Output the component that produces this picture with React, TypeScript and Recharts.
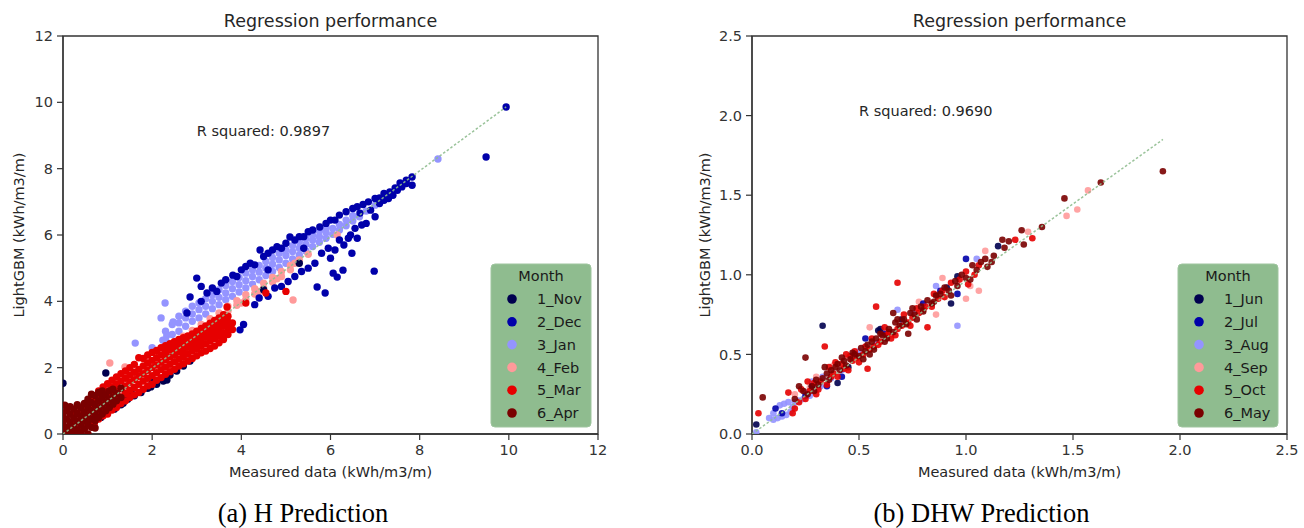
import React from 'react';
import { ScatterChart, Scatter, XAxis, YAxis, ReferenceArea, ReferenceDot } from 'recharts';

type Pt = [number, number];

// ---------- shared ----------
const monthColors = ['#00004f', '#0000aa', '#9494ff', '#ff9a9a', '#e60000', '#7a0000'];
const chartTitle = 'Regression performance';
const xLabel = 'Measured data (kWh/m3/m)';
const yLabel = 'LightGBM (kWh/m3/m)';
const legendTitle = 'Month';

// ---------- (a) H prediction ----------
const hMonths = ['1_Nov', '2_Dec', '3_Jan', '4_Feb', '5_Mar', '6_Apr'];
const hTicks = [0, 2, 4, 6, 8, 10, 12];
const hCaption = '(a) H Prediction';
const hR2 = 'R squared: 0.9897';
const hR2Pos: Pt = [3, 9];
const hFit: Pt[] = [[0, 0], [9.94, 9.86]];

const hNov: Pt[] = [
  [0.0, 1.53], [0.96, 1.84], [0.85, 0.5], [1.0, 0.65], [1.15, 0.75], [1.3, 0.88], [1.35, 0.93], [1.45, 1.05],
  [1.6, 1.15], [1.75, 1.25], [1.9, 1.38], [1.97, 1.42], [2.1, 1.5], [2.25, 1.6], [2.33, 1.63], [2.4, 1.78],
  [2.55, 1.9], [0.3, 0.1], [0.55, 0.3], [4.5, 4.35], [5.3, 5.15], [3.3, 3.0], [0.7, 0.4], [1.2, 0.9],
  [1.55, 1.2], [2.0, 1.55], [2.7, 2.05], [2.85, 2.2],
];
const hDec: Pt[] = [
  [2.78, 3.65], [2.85, 4.13], [3.0, 4.7], [3.1, 4.0], [3.1, 4.45], [3.23, 4.25], [3.35, 4.4], [3.45, 4.3],
  [3.55, 4.55], [3.65, 4.65], [3.81, 4.79], [3.9, 4.75], [4.0, 4.95], [4.1, 5.05], [4.2, 5.15], [4.3, 5.1],
  [4.42, 5.55], [4.5, 5.35], [4.6, 5.45], [4.7, 5.55], [4.8, 5.65], [4.9, 5.6], [5.0, 5.75], [5.09, 5.94],
  [5.2, 5.85], [5.3, 5.95], [5.4, 5.95], [5.5, 6.1], [5.6, 6.15], [5.76, 6.24], [5.9, 6.35], [6.0, 6.45],
  [6.1, 6.45], [6.2, 6.6], [6.35, 6.7], [6.5, 6.8], [6.6, 6.85], [6.73, 6.92], [6.85, 7.0], [7.0, 7.1],
  [7.1, 7.12], [7.2, 7.25], [7.33, 7.3], [7.45, 7.42], [7.56, 7.57], [7.7, 7.65], [7.83, 7.75], [6.66, 6.66],
  [6.9, 6.75], [7.1, 6.95], [7.2, 7.05], [7.3, 7.1], [7.5, 7.35], [7.6, 7.45], [7.7, 7.55], [7.83, 7.5],
  [7.4, 7.2], [3.97, 3.14], [4.05, 3.3], [4.3, 3.9], [4.4, 4.1], [4.6, 4.15], [4.75, 4.4], [4.9, 4.45],
  [5.05, 4.6], [5.2, 4.75], [5.35, 4.9], [5.5, 5.0], [5.65, 5.15], [5.7, 4.43], [5.88, 4.25], [6.06, 4.85],
  [6.15, 4.73], [6.28, 4.94], [6.48, 5.45], [6.6, 5.9], [6.98, 4.91], [6.0, 5.3], [5.8, 5.45], [6.3, 5.7],
  [6.45, 6.0], [6.8, 6.35], [7.0, 6.55], [6.2, 5.85], [6.55, 6.2], [5.95, 5.6], [6.1, 5.55], [6.4, 5.9],
  [6.7, 6.3], [4.6, 4.95], [5.4, 5.6], [9.94, 9.86], [9.49, 8.35],
];
const hJan: Pt[] = [
  [2.3, 2.85], [2.3, 3.1], [2.45, 3.0], [2.45, 3.3], [2.6, 3.1], [2.6, 3.35], [2.6, 3.55], [2.75, 3.25],
  [2.75, 3.5], [2.75, 3.7], [2.9, 3.4], [2.9, 3.62], [2.9, 3.85], [3.05, 3.5], [3.05, 3.75], [3.05, 3.95],
  [3.2, 3.62], [3.2, 3.85], [3.2, 4.08], [3.35, 3.78], [3.35, 4.0], [3.35, 4.2], [3.5, 3.9], [3.5, 4.12],
  [3.5, 4.35], [3.65, 4.05], [3.65, 4.25], [3.65, 4.48], [3.8, 4.15], [3.8, 4.38], [3.8, 4.6], [3.95, 4.28],
  [3.95, 4.5], [3.95, 4.72], [4.1, 4.4], [4.1, 4.62], [4.1, 4.85], [4.25, 4.52], [4.25, 4.75], [4.25, 4.95],
  [4.4, 4.65], [4.4, 4.88], [4.4, 5.08], [4.55, 4.78], [4.55, 5.0], [4.55, 5.2], [4.7, 4.9], [4.7, 5.12],
  [4.7, 5.32], [4.85, 5.02], [4.85, 5.25], [4.85, 5.45], [5.0, 5.15], [5.0, 5.38], [5.0, 5.55], [5.15, 5.28],
  [5.15, 5.5], [5.15, 5.68], [5.3, 5.4], [5.3, 5.6], [5.3, 5.8], [5.45, 5.52], [5.45, 5.72], [5.45, 5.9],
  [5.6, 5.65], [5.6, 5.85], [5.6, 6.0], [5.75, 5.78], [5.75, 5.95], [5.75, 6.12], [5.9, 5.9], [5.9, 6.08],
  [5.9, 6.22], [6.05, 6.02], [6.05, 6.2], [6.2, 6.15], [6.2, 6.32], [6.35, 6.28], [6.35, 6.45], [6.5, 6.42],
  [6.5, 6.58], [6.65, 6.55], [6.8, 6.72], [7.0, 6.9], [2.29, 3.95], [2.2, 3.5], [2.47, 3.38], [2.24, 2.83],
  [1.62, 2.74], [2.33, 2.98], [8.41, 8.29], [2.0, 2.6],
];
const hFeb: Pt[] = [
  [0.5, 0.75], [0.8, 1.15], [1.05, 2.14], [1.39, 2.02], [1.9, 2.25], [2.1, 2.45], [2.3, 2.62], [2.3, 2.5],
  [2.5, 2.78], [2.5, 2.65], [2.7, 2.95], [2.7, 2.82], [2.9, 3.12], [2.9, 2.98], [3.1, 3.3], [3.1, 3.15],
  [3.3, 3.48], [3.3, 3.32], [3.5, 3.65], [3.5, 3.5], [3.7, 3.85], [3.7, 3.7], [3.9, 4.02], [3.9, 3.88],
  [4.1, 4.2], [4.1, 4.05], [4.3, 4.38], [4.3, 4.22], [4.5, 4.55], [4.5, 4.4], [4.7, 4.72], [4.7, 4.58],
  [4.9, 4.9], [4.9, 4.75], [5.1, 5.08], [5.1, 4.95], [5.3, 5.25], [5.5, 5.42], [5.16, 4.04], [6.15, 6.0],
  [4.0, 3.95], [4.4, 4.3], [4.8, 4.68], [5.2, 5.15],
];
const hMar: Pt[] = [
  [0.3, 0.12], [0.3, 0.38], [0.3, 0.62], [0.4, 0.25], [0.4, 0.55], [0.4, 0.78], [0.5, 0.2], [0.5, 0.42],
  [0.5, 0.68], [0.5, 0.9], [0.6, 0.35], [0.6, 0.58], [0.6, 0.82], [0.6, 1.02], [0.7, 0.3], [0.7, 0.52],
  [0.7, 0.75], [0.7, 0.98], [0.7, 1.15], [0.8, 0.45], [0.8, 0.66], [0.8, 0.9], [0.8, 1.12], [0.8, 1.3],
  [0.9, 0.55], [0.9, 0.78], [0.9, 1.0], [0.9, 1.22], [0.9, 1.42], [1.0, 0.6], [1.0, 0.85], [1.0, 1.08],
  [1.0, 1.3], [1.0, 1.52], [1.1, 0.72], [1.1, 0.95], [1.1, 1.18], [1.1, 1.4], [1.1, 1.62], [1.2, 0.8],
  [1.2, 1.05], [1.2, 1.28], [1.2, 1.5], [1.2, 1.72], [1.3, 0.92], [1.3, 1.12], [1.3, 1.36], [1.3, 1.6],
  [1.3, 1.82], [1.4, 1.0], [1.4, 1.22], [1.4, 1.45], [1.4, 1.68], [1.4, 1.9], [1.5, 1.1], [1.5, 1.32],
  [1.5, 1.56], [1.5, 1.78], [1.5, 2.0], [1.6, 1.18], [1.6, 1.4], [1.6, 1.64], [1.6, 1.86], [1.6, 2.1],
  [1.7, 1.25], [1.7, 1.5], [1.7, 1.74], [1.7, 1.95], [1.7, 2.3], [1.8, 1.35], [1.8, 1.6], [1.8, 1.82],
  [1.8, 2.05], [1.8, 2.28], [1.9, 1.45], [1.9, 1.68], [1.9, 1.92], [1.9, 2.14], [1.9, 2.38], [2.0, 1.5],
  [2.0, 1.76], [2.0, 2.0], [2.0, 2.22], [2.0, 2.46], [2.1, 1.62], [2.1, 1.85], [2.1, 2.08], [2.1, 2.3],
  [2.1, 2.52], [2.2, 1.7], [2.2, 1.94], [2.2, 2.16], [2.2, 2.38], [2.2, 2.6], [2.3, 1.8], [2.3, 2.02],
  [2.3, 2.25], [2.3, 2.46], [2.3, 2.66], [2.4, 1.88], [2.4, 2.1], [2.4, 2.32], [2.4, 2.54], [2.4, 2.72],
  [2.5, 1.95], [2.5, 2.18], [2.5, 2.4], [2.5, 2.6], [2.5, 2.78], [2.6, 2.05], [2.6, 2.26], [2.6, 2.48],
  [2.6, 2.68], [2.6, 2.85], [2.7, 2.12], [2.7, 2.34], [2.7, 2.55], [2.7, 2.74], [2.7, 2.9], [2.8, 2.2],
  [2.8, 2.42], [2.8, 2.62], [2.8, 2.8], [2.8, 2.96], [2.9, 2.28], [2.9, 2.5], [2.9, 2.7], [2.9, 2.88],
  [2.9, 3.02], [3.0, 2.36], [3.0, 2.58], [3.0, 2.78], [3.0, 2.95], [3.0, 3.1], [3.1, 2.45], [3.1, 2.65],
  [3.1, 2.85], [3.1, 3.02], [3.1, 3.18], [3.2, 2.5], [3.2, 2.72], [3.2, 2.92], [3.2, 3.1], [3.2, 3.26],
  [3.3, 2.58], [3.3, 2.8], [3.3, 3.0], [3.3, 3.18], [3.3, 3.34], [3.4, 2.65], [3.4, 2.88], [3.4, 3.08],
  [3.4, 3.26], [3.4, 3.42], [3.5, 2.75], [3.5, 2.95], [3.5, 3.15], [3.5, 3.32], [3.5, 3.5], [3.6, 2.85],
  [3.6, 3.05], [3.6, 3.25], [3.6, 3.42], [3.6, 3.6], [3.7, 3.0], [3.7, 3.2], [3.7, 3.38], [3.7, 3.55],
  [3.8, 3.15], [3.8, 3.35], [3.68, 3.83], [4.1, 3.95], [4.55, 4.25], [5.0, 4.3],
];
const hApr: Pt[] = [
  [0.0, 0.05], [0.0, 0.3], [0.0, 0.55], [0.04, 0.87], [0.08, 0.0], [0.08, 0.2], [0.08, 0.45], [0.08, 0.7],
  [0.16, 0.1], [0.16, 0.35], [0.16, 0.6], [0.16, 0.82], [0.24, 0.0], [0.24, 0.22], [0.24, 0.48], [0.24, 0.75],
  [0.32, 0.12], [0.32, 0.38], [0.32, 0.62], [0.32, 0.88], [0.4, 0.05], [0.4, 0.28], [0.4, 0.52], [0.4, 0.78],
  [0.48, 0.15], [0.48, 0.4], [0.48, 0.65], [0.48, 0.92], [0.56, 0.0], [0.56, 0.3], [0.56, 0.55], [0.56, 0.8],
  [0.56, 1.05], [0.64, 0.2], [0.64, 0.45], [0.64, 0.7], [0.64, 0.95], [0.64, 1.2], [0.72, 0.18], [0.72, 0.4],
  [0.72, 0.62], [0.72, 0.88], [0.72, 1.15], [0.8, 0.5], [0.8, 0.75], [0.8, 1.0], [0.8, 1.25], [0.88, 0.6],
  [0.88, 0.85], [0.88, 1.1], [0.88, 1.3], [0.96, 0.7], [0.96, 0.95], [0.96, 1.18], [1.04, 0.8], [1.04, 1.05],
  [1.04, 1.3], [1.12, 0.9], [1.12, 1.12], [1.12, 1.35], [1.2, 1.0], [1.2, 1.22], [1.3, 1.1], [1.3, 1.38],
];
const hSeries: Pt[][] = [hNov, hDec, hJan, hFeb, hMar, hApr];
const hDrawOrder = [2, 3, 1, 0, 4, 5];

// ---------- (b) DHW prediction ----------
const dhwMonths = ['1_Jun', '2_Jul', '3_Aug', '4_Sep', '5_Oct', '6_May'];
const dhwTicks = [0, 0.5, 1.0, 1.5, 2.0, 2.5];
const dhwCaption = '(b) DHW Prediction';
const dhwR2 = 'R squared: 0.9690';
const dhwR2Pos: Pt = [0.5, 2.0];
const dhwFit: Pt[] = [[0, 0], [1.92, 1.85]];

const dJun: Pt[] = [
  [0.02, 0.06], [0.33, 0.68], [0.4, 0.32], [0.59, 0.65], [0.6, 0.66], [0.93, 0.82], [0.96, 0.99], [0.91, 0.92],
  [1.15, 1.18], [0.45, 0.42], [0.7, 0.72], [0.28, 0.3],
];
const dJul: Pt[] = [
  [0.11, 0.16], [0.14, 0.13], [0.53, 0.6], [1.0, 1.1], [0.96, 0.88], [0.35, 0.3], [0.42, 0.36], [0.62, 0.63],
  [0.8, 0.82], [0.88, 0.9], [0.25, 0.24],
];
const dAug: Pt[] = [
  [0.08, 0.1], [0.1, 0.09], [0.12, 0.1], [0.14, 0.11], [0.16, 0.12], [0.18, 0.14], [0.1, 0.13], [0.13, 0.18],
  [0.15, 0.19], [0.2, 0.2], [0.22, 0.21], [0.25, 0.26], [0.28, 0.33], [0.3, 0.28], [0.33, 0.36], [0.37, 0.35],
  [0.42, 0.4], [0.5, 0.52], [0.68, 0.78], [0.86, 0.93], [0.96, 0.68], [1.05, 1.1], [0.75, 0.76], [0.58, 0.57],
  [0.02, 0.01], [0.19, 0.17], [0.24, 0.22], [0.17, 0.2], [0.27, 0.24], [0.32, 0.3],
];
const dSep: Pt[] = [
  [0.86, 0.75], [1.0, 0.85], [1.06, 0.9], [0.89, 0.98], [1.02, 0.93], [1.09, 1.15], [1.29, 1.27], [1.47, 1.37],
  [1.52, 1.41], [1.57, 1.53], [0.55, 0.67], [0.3, 0.36], [0.2, 0.25], [0.45, 0.48], [0.65, 0.62], [0.72, 0.7],
  [0.38, 0.43], [0.27, 0.29], [0.6, 0.64], [0.78, 0.83],
];
const dOct: Pt[] = [
  [0.03, 0.13], [0.17, 0.26], [0.19, 0.13], [0.2, 0.16], [0.34, 0.55], [0.54, 0.41], [0.58, 0.8], [0.68, 0.95],
  [0.82, 0.67], [0.89, 0.9], [1.0, 1.02], [1.01, 0.94], [1.06, 1.06], [1.23, 1.22], [1.31, 1.23], [0.22, 0.2],
  [0.25, 0.22], [0.27, 0.27], [0.3, 0.25], [0.32, 0.33], [0.35, 0.31], [0.38, 0.38], [0.4, 0.36], [0.42, 0.44],
  [0.45, 0.4], [0.47, 0.46], [0.5, 0.45], [0.52, 0.5], [0.55, 0.53], [0.57, 0.55], [0.6, 0.58], [0.63, 0.62],
  [0.65, 0.6], [0.68, 0.66], [0.7, 0.68], [0.73, 0.7], [0.75, 0.73], [0.78, 0.76], [0.8, 0.78], [0.84, 0.8],
  [0.87, 0.85], [0.93, 0.95], [0.97, 0.97], [1.04, 1.0], [0.36, 0.42], [0.44, 0.5], [0.62, 0.67], [0.26, 0.33],
  [0.48, 0.52], [0.23, 0.28], [0.29, 0.32], [0.31, 0.28], [0.37, 0.36], [0.39, 0.45], [0.43, 0.41], [0.46, 0.49],
  [0.49, 0.48], [0.53, 0.55], [0.56, 0.6], [0.59, 0.56], [0.64, 0.64], [0.67, 0.62], [0.71, 0.75], [0.74, 0.68],
  [0.77, 0.79], [0.81, 0.8], [0.85, 0.88], [0.9, 0.86],
];
const dMay: Pt[] = [
  [0.05, 0.23], [0.25, 0.48], [0.22, 0.3], [0.66, 0.76], [0.73, 0.63], [0.86, 0.87], [0.84, 0.82], [0.93, 0.87],
  [0.95, 0.96], [1.02, 0.97], [1.03, 1.06], [1.1, 1.05], [1.13, 1.12], [1.17, 1.22], [1.2, 1.21], [1.18, 1.17],
  [1.26, 1.28], [1.27, 1.19], [1.355, 1.3], [1.46, 1.48], [1.63, 1.58], [1.92, 1.65], [0.24, 0.27], [0.28, 0.3],
  [0.3, 0.34], [0.33, 0.35], [0.35, 0.38], [0.37, 0.4], [0.39, 0.42], [0.41, 0.4], [0.43, 0.46], [0.46, 0.47],
  [0.48, 0.5], [0.5, 0.49], [0.51, 0.54], [0.53, 0.52], [0.56, 0.58], [0.58, 0.6], [0.61, 0.62], [0.63, 0.6],
  [0.64, 0.66], [0.67, 0.7], [0.69, 0.68], [0.71, 0.72], [0.74, 0.76], [0.76, 0.75], [0.79, 0.8], [0.82, 0.84],
  [0.88, 0.88], [0.9, 0.92], [0.98, 1.0], [1.07, 1.08], [0.34, 0.42], [0.42, 0.48], [0.29, 0.27], [0.55, 0.5],
  [0.2, 0.22], [0.26, 0.25], [0.31, 0.31], [0.36, 0.34], [0.4, 0.44], [0.44, 0.43], [0.47, 0.51], [0.52, 0.47],
  [0.54, 0.56], [0.57, 0.53], [0.6, 0.63], [0.62, 0.58], [0.66, 0.64], [0.68, 0.72], [0.72, 0.69], [0.75, 0.79],
  [0.77, 0.72], [0.8, 0.77], [0.85, 0.83], [0.92, 0.9], [0.96, 0.93], [1.0, 0.98], [1.05, 1.03], [1.09, 1.1],
  [1.12, 1.08],
];
const dhwSeries: Pt[][] = [dJun, dJul, dAug, dSep, dOct, dMay];
const dhwDrawOrder = [2, 3, 0, 1, 4, 5];

// ---------- rendering ----------
const FONT = 'DejaVu Sans, sans-serif';
const AX = '#333333';
const toObj = (pts: Pt[]) => pts.map(([x, y]) => ({ x, y }));

const dotShape = (color: string, r: number, op: number) => (p: any) =>
  p.cx == null ? <g /> : <circle cx={p.cx} cy={p.cy} r={r} fill={color} fillOpacity={op} />;

interface PanelProps {
  left: number;
  width: number;
  mLeft: number;
  mRight: number;
  maxV: number;
  ticks: number[];
  fmt: (v: number) => string;
  series: Pt[][];
  names: string[];
  order: number[];
  fit: Pt[];
  r2: string;
  r2Pos: Pt;
  dotR: number;
  dotOp: number;
}

function Panel(p: PanelProps) {
  const tickStyle = { fill: AX, fontSize: 14.5, fontFamily: FONT };
  return (
    <div style={{ position: 'absolute', left: p.left, top: 0 }}>
      <ScatterChart width={p.width} height={528} margin={{ top: 36, right: p.mRight, bottom: 64, left: p.mLeft }}>
        <XAxis
          type="number" dataKey="x" domain={[0, p.maxV]} ticks={p.ticks} tickFormatter={p.fmt}
          allowDataOverflow height={30} tickSize={6} tickMargin={5} interval={0}
          stroke={AX} tick={tickStyle} axisLine={{ stroke: AX, strokeWidth: 1.3 }} tickLine={{ stroke: AX, strokeWidth: 1.2 }}
        />
        <YAxis
          type="number" dataKey="y" domain={[0, p.maxV]} ticks={p.ticks} tickFormatter={p.fmt}
          allowDataOverflow width={40} tickSize={6} tickMargin={4} interval={0}
          stroke={AX} tick={tickStyle} axisLine={{ stroke: AX, strokeWidth: 1.3 }} tickLine={{ stroke: AX, strokeWidth: 1.2 }}
        />
        <ReferenceArea x1={0} x2={p.maxV} y1={0} y2={p.maxV} fill="none" fillOpacity={0} stroke={AX} strokeWidth={1.3} />
        {p.order.map((i) => (
          <Scatter
            key={p.names[i]} name={p.names[i]} data={toObj(p.series[i])} isAnimationActive={false}
            fill={monthColors[i]} shape={dotShape(monthColors[i], p.dotR, p.dotOp)}
          />
        ))}
        <Scatter
          data={toObj(p.fit)} isAnimationActive={false} fill="none"
          line={{ stroke: '#8fbc8f', strokeWidth: 1.5, strokeDasharray: '2.5 2', strokeOpacity: 0.9 }}
          shape={() => <g />}
        />
        <ReferenceDot
          x={p.r2Pos[0]} y={p.r2Pos[1]} r={0} fill="none" stroke="none"
          label={{
            content: (lp: any) => (
              <text x={lp.viewBox.x} y={lp.viewBox.y} fontSize={14.5} fontFamily={FONT} fill="#262626">
                {p.r2}
              </text>
            ),
          }}
        />
      </ScatterChart>
    </div>
  );
}

function LegendBox({ x, names }: { x: number; names: string[] }) {
  const top = 264;
  const rowY = (i: number) => 299 + i * 22.8;
  return (
    <g>
      <rect x={x} y={top} width={100} height={163} rx={4} fill="#8fbc8f" stroke="#9fc59f" strokeWidth={1} />
      <text x={x + 50} y={281} textAnchor="middle" fontSize={14.5} fontFamily={FONT} fill="#1a1a1a">
        {legendTitle}
      </text>
      {names.map((n, i) => (
        <g key={n}>
          <circle cx={x + 21} cy={rowY(i)} r={4.8} fill={monthColors[i]} />
          <text x={x + 46} y={rowY(i)} dy="0.36em" fontSize={14.5} fontFamily={FONT} fill="#1a1a1a">
            {n}
          </text>
        </g>
      ))}
    </g>
  );
}

export default function App() {
  return (
    <div style={{ position: 'absolute', left: 0, top: 0, width: 1304, height: 528, background: '#ffffff', overflow: 'hidden' }}>
      <Panel
        left={0} width={650} mLeft={23} mRight={52} maxV={12} ticks={hTicks} fmt={(v) => String(v)}
        series={hSeries} names={hMonths} order={hDrawOrder} fit={hFit} r2={hR2} r2Pos={hR2Pos} dotR={3.7} dotOp={1}
      />
      <Panel
        left={650} width={654} mLeft={62} mRight={17} maxV={2.5} ticks={dhwTicks} fmt={(v) => v.toFixed(1)}
        series={dhwSeries} names={dhwMonths} order={dhwDrawOrder} fit={dhwFit} r2={dhwR2} r2Pos={dhwR2Pos} dotR={3.3} dotOp={0.9}
      />
      <svg width={1304} height={528} style={{ position: 'absolute', left: 0, top: 0, pointerEvents: 'none' }}>
        <text x={330.5} y={27} textAnchor="middle" fontSize={17.5} fontFamily={FONT} fill="#262626">{chartTitle}</text>
        <text x={1019.5} y={27} textAnchor="middle" fontSize={17.5} fontFamily={FONT} fill="#262626">{chartTitle}</text>
        <text x={330.5} y={477} textAnchor="middle" fontSize={14.5} fontFamily={FONT} fill="#262626">{xLabel}</text>
        <text x={1019.5} y={477} textAnchor="middle" fontSize={14.5} fontFamily={FONT} fill="#262626">{xLabel}</text>
        <text transform="translate(24,235) rotate(-90)" textAnchor="middle" fontSize={14.5} fontFamily={FONT} fill="#262626">{yLabel}</text>
        <text transform="translate(709.5,235) rotate(-90)" textAnchor="middle" fontSize={14.5} fontFamily={FONT} fill="#262626">{yLabel}</text>
        <LegendBox x={491} names={hMonths} />
        <LegendBox x={1178} names={dhwMonths} />
        <text x={303} y={522} textAnchor="middle" fontSize={26.5} fontFamily="Liberation Serif, serif" fill="#000">{hCaption}</text>
        <text x={981.5} y={522} textAnchor="middle" fontSize={26.5} fontFamily="Liberation Serif, serif" fill="#000">{dhwCaption}</text>
      </svg>
    </div>
  );
}
